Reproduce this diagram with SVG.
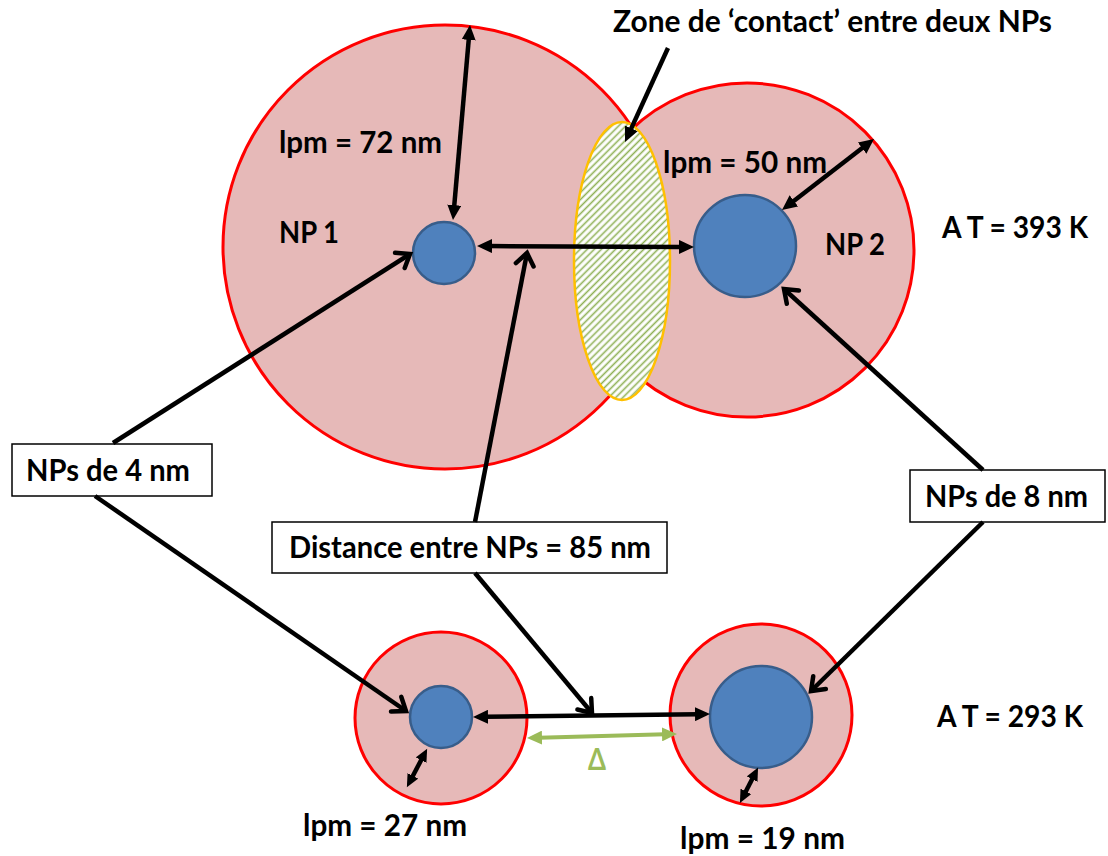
<svg xmlns="http://www.w3.org/2000/svg" width="1108" height="856" viewBox="0 0 1108 856">
  <style>
    .shell { fill: #e6b9b8; stroke: #ff0000; stroke-width: 3; }
    .core { fill: #4f81bd; stroke: #385d8a; stroke-width: 2.5; }
    .box { fill: #ffffff; stroke: #000000; stroke-width: 1.5; }
    .t { font-family: Lato, "Liberation Sans", sans-serif; font-weight: bold; font-size: 30px; fill: #000000; }
    .ln { stroke: #000000; stroke-width: 4.5; fill: none; }
    .gl { stroke: #9bbb59; stroke-width: 4; fill: none; }
  </style>
  <defs>
    <pattern id="hatch" width="5" height="5" patternUnits="userSpaceOnUse" patternTransform="rotate(45)">
      <rect width="5" height="5" fill="#ffffff"/>
      <line x1="1.5" y1="0" x2="1.5" y2="5" stroke="#8fb156" stroke-width="1.6"/>
    </pattern>
    <marker id="fh" markerUnits="userSpaceOnUse" markerWidth="16" markerHeight="14" refX="3" refY="7" orient="auto-start-reverse">
      <path d="M0,0 L15,7 L0,14 z" fill="#000000"/>
    </marker>
    <marker id="fs" markerUnits="userSpaceOnUse" markerWidth="14" markerHeight="12" refX="3" refY="6" orient="auto-start-reverse">
      <path d="M0,0 L13,6 L0,12 z" fill="#000000"/>
    </marker>
    <marker id="gh" markerUnits="userSpaceOnUse" markerWidth="16" markerHeight="14" refX="3" refY="7" orient="auto-start-reverse">
      <path d="M0,0 L15,7 L0,14 z" fill="#9bbb59"/>
    </marker>
    <marker id="vh" markerUnits="userSpaceOnUse" markerWidth="20" markerHeight="22" refX="14" refY="11" orient="auto" overflow="visible">
      <path d="M2,2 L14,11 L2,20" fill="none" stroke="#000000" stroke-width="4.5" stroke-linecap="round" stroke-linejoin="miter"/>
    </marker>
  </defs>

  <g id="np1-shell"><circle class="shell" cx="445" cy="247" r="222"/></g>
  <g id="np2-shell"><circle class="shell" cx="747" cy="250" r="167"/></g>
  <g id="contact-zone"><ellipse cx="622" cy="261" rx="48" ry="139" fill="url(#hatch)" stroke="#ffc000" stroke-width="2.5"/></g>
  <g id="np1-core"><circle class="core" cx="444" cy="253" r="31"/></g>
  <g id="np2-core"><circle class="core" cx="745" cy="246" r="51"/></g>

  <g id="np3-shell"><circle class="shell" cx="441" cy="718" r="86"/></g>
  <g id="np3-core"><circle class="core" cx="441" cy="717" r="31"/></g>
  <g id="np4-shell"><circle class="shell" cx="761" cy="715" r="91"/></g>
  <g id="np4-core"><circle class="core" cx="761" cy="717" r="51"/></g>

  <g id="box-4nm">
    <rect class="box" x="12" y="444" width="200" height="52"/>
    <text class="t" x="26" y="481" textLength="164" lengthAdjust="spacingAndGlyphs">NPs de 4 nm</text>
  </g>
  <g id="box-8nm">
    <rect class="box" x="910" y="470" width="195" height="52"/>
    <text class="t" x="925" y="507" textLength="163" lengthAdjust="spacingAndGlyphs">NPs de 8 nm</text>
  </g>
  <g id="box-distance">
    <rect class="box" x="272" y="522" width="395" height="51"/>
    <text class="t" x="289" y="558" textLength="362" lengthAdjust="spacingAndGlyphs">Distance entre NPs = 85 nm</text>
  </g>

  <g id="connectors">
    <line class="ln" x1="468.96" y1="36.96" x2="454.04" y2="208.04" marker-start="url(#fh)" marker-end="url(#fh)"/>
    <line class="ln" x1="489" y1="246.06" x2="682" y2="246.94" marker-start="url(#fh)" marker-end="url(#fh)"/>
    <line class="ln" x1="864.5" y1="146.3" x2="791.5" y2="202.7" marker-start="url(#fh)" marker-end="url(#fh)"/>
    <line class="ln" x1="668" y1="48" x2="630.03" y2="131.11" stroke-width="5" marker-end="url(#fh)"/>
    <line class="ln" x1="113" y1="443" x2="410" y2="254" marker-end="url(#vh)"/>
    <line class="ln" x1="95" y1="496" x2="406" y2="711" marker-end="url(#vh)"/>
    <line class="ln" x1="475" y1="522" x2="527" y2="253" marker-end="url(#vh)"/>
    <line class="ln" x1="475" y1="573" x2="592" y2="713" marker-end="url(#vh)"/>
    <line class="ln" x1="983" y1="470" x2="784" y2="289" marker-end="url(#vh)"/>
    <line class="ln" x1="983" y1="522" x2="811" y2="691" marker-end="url(#vh)"/>
    <line class="ln" x1="485" y1="716.85" x2="698" y2="714.15" marker-start="url(#fh)" marker-end="url(#fh)"/>
    <line class="gl" x1="539" y1="737.7" x2="665" y2="734.3" marker-start="url(#gh)" marker-end="url(#gh)"/>
    <line class="ln" x1="411.5" y1="778.5" x2="422.5" y2="757.5" stroke-width="4" marker-start="url(#fs)" marker-end="url(#fs)"/>
    <line class="ln" x1="744.5" y1="794" x2="753.5" y2="776.5" stroke-width="4" marker-start="url(#fs)" marker-end="url(#fs)"/>
  </g>

  <g id="labels">
    <text class="t" x="613" y="32" font-size="28" textLength="439" lengthAdjust="spacingAndGlyphs">Zone de ‘contact’ entre deux NPs</text>
    <text class="t" x="279" y="153" textLength="163" lengthAdjust="spacingAndGlyphs">lpm = 72 nm</text>
    <text class="t" x="279" y="243" textLength="60" lengthAdjust="spacingAndGlyphs">NP 1</text>
    <text class="t" x="663" y="173" textLength="164" lengthAdjust="spacingAndGlyphs">lpm = 50 nm</text>
    <text class="t" x="825" y="255" textLength="60" lengthAdjust="spacingAndGlyphs">NP 2</text>
    <text class="t" x="942" y="238" textLength="146" lengthAdjust="spacingAndGlyphs">A T = 393 K</text>
    <text class="t" x="937" y="727" textLength="146" lengthAdjust="spacingAndGlyphs">A T = 293 K</text>
    <text class="t" x="303" y="836" textLength="164" lengthAdjust="spacingAndGlyphs">lpm = 27 nm</text>
    <text class="t" x="680" y="849" textLength="165" lengthAdjust="spacingAndGlyphs">lpm = 19 nm</text>
    <text class="t" x="588" y="770" font-size="26" style="fill:#9bbb59" textLength="18" lengthAdjust="spacingAndGlyphs">Δ</text>
  </g>
</svg>
